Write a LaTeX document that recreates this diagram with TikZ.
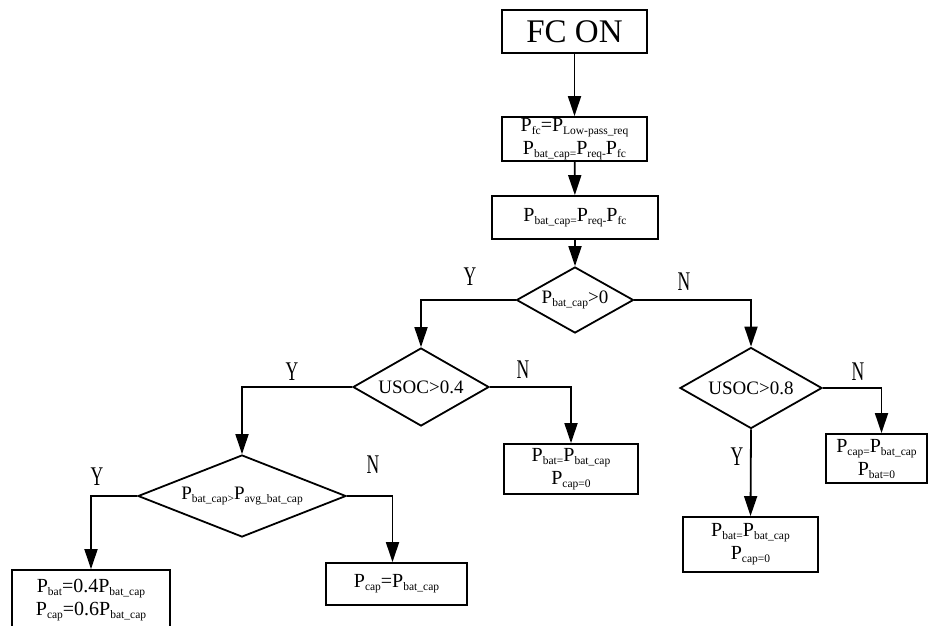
\documentclass[tikz,border=0pt]{standalone}
\usepackage{fontspec}
\setmainfont{Liberation Serif}
\newfontfamily\ynfont[FakeStretch=0.65]{Liberation Serif}
\usetikzlibrary{arrows.meta,shapes.geometric}
\newcommand{\sub}[1]{\raisebox{-3pt}{\fontsize{11.5}{12}\selectfont #1}}

\begin{document}
\begin{tikzpicture}[x=1pt, y=-1pt,
  box/.style={draw, line width=1.8pt, inner sep=0pt, align=center,
              font=\fontsize{20}{23}\selectfont},
  dia/.style={draw, diamond, line width=1.8pt, inner sep=0pt, align=center,
              font=\fontsize{19}{22}\selectfont},
  lbl/.style={inner sep=0pt, font=\ynfont\fontsize{27}{27}\selectfont},
  arr/.style={-{Triangle[length=20pt,width=13pt]}, line width=1.8pt}
]
\clip (0,0) rectangle (928,625);

%% main column
\node[box, minimum width=145, minimum height=43,
      font=\fontsize{33}{33}\selectfont] (fcon) at (574.5,31.5) {FC ON};
\node[box, minimum width=145, minimum height=44] (init) at (574.5,139)
  {P\sub{fc}=P\sub{Low-pass\_req}\\P\sub{bat\_cap=}P\sub{req-}P\sub{fc}};
\node[box, minimum width=166, minimum height=43] (diff) at (575,217.5)
  {P\sub{bat\_cap=}P\sub{req-}P\sub{fc}};
\node[dia, aspect=1.77, minimum width=117, minimum height=66] (sign) at (575,300)
  {P\sub{bat\_cap}>0};

\draw[arr] (fcon) -- (init);
\draw[arr] (init) -- (diff);
\draw[arr] (diff) -- (sign);

%% discharging branch
\node[dia, aspect=1.74, minimum width=136, minimum height=78] (soclo) at (421,387) {USOC>0.4};
\node[dia, aspect=2.54, minimum width=208, minimum height=82] (avg) at (242,496)
  {P\sub{bat\_cap>}P\sub{avg\_bat\_cap}};
\node[box, minimum width=134, minimum height=50] (batonly) at (571,469)
  {P\sub{bat=}P\sub{bat\_cap}\\P\sub{cap=0}};
\node[box, minimum width=158, minimum height=60] (split) at (91,600)
  {P\sub{bat}=0.4P\sub{bat\_cap}\\P\sub{cap}=0.6P\sub{bat\_cap}};
\node[box, minimum width=141, minimum height=42] (caponly) at (396.5,584)
  {P\sub{cap}=P\sub{bat\_cap}};

\draw[arr] (sign.west) -| (soclo.north);
\draw[arr] (soclo.east) -| (batonly.north);
\draw[arr] (soclo.west) -| (avg.north);
\draw[arr] (avg.west) -| (split.north);
\draw[arr] (avg.east) -| ([xshift=-4pt]caponly.north);

%% charging branch
\node[dia, aspect=1.75, minimum width=142, minimum height=81] (sochi) at (751,388) {USOC>0.8};
\node[box, minimum width=135, minimum height=55] (batchg) at (750.5,544.5)
  {P\sub{bat=}P\sub{bat\_cap}\\P\sub{cap=0}};
\node[box, minimum width=101, minimum height=49] (capchg) at (876.5,458.5)
  {P\sub{cap=}P\sub{bat\_cap}\\P\sub{bat=0}};

\draw[arr] (sign.east) -| (sochi.north);
\draw[arr] (sochi.south) -- (batchg.north);
\draw[arr] (sochi.east) -| ([xshift=5pt]capchg.north);

%% Y / N labels
\node[lbl] (y1) at (470,277) {Y};
\node[lbl] (n1) at (684,282) {N};
\node[lbl] (y2) at (292,372) {Y};
\node[lbl] (n2) at (523,370) {N};
\node[lbl] (n3) at (858,372) {N};
\node[lbl] (y3) at (737,457) {Y};
\node[lbl] (y4) at (97,477) {Y};
\node[lbl] (n4) at (373,465) {N};
\end{tikzpicture}
\end{document}
